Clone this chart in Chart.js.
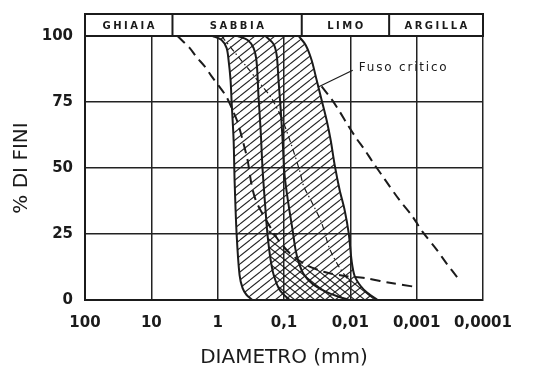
<!DOCTYPE html>
<html>
<head>
<meta charset="utf-8">
<script src="https://cdn.jsdelivr.net/npm/chart.js@4.4.0/dist/chart.umd.min.js"></script>
<style>
  html, body { margin: 0; padding: 0; background: #fff; }
</style>
</head>
<body>
<canvas id="chart" width="537" height="369"></canvas>
<script>
// asse x: diametro in mm (scala log invertita), asse y: % di fini
const xTicks = [100, 10, 1, 0.1, 0.01, 0.001, 0.0001];
const xTickLabels = ["100", "10", "1", "0,1", "0,01", "0,001", "0,0001"];
const yTicks = [0, 25, 50, 75, 100];

// classi granulometriche sopra il grafico (limiti in mm)
const classi = ["GHIAIA", "SABBIA", "LIMO", "ARGILLA"];
const limitiClassi = [100, 4.8, 0.054, 0.0026, 0.0001];

// le quattro curve continue del fuso
const curvaA_d = [1.19, 0.873, 0.734, 0.685, 0.639, 0.617, 0.575, 0.556, 0.519, 0.468, 0.421, 0.366, 0.298];
const curvaA_p = [100, 98.5, 95.5, 90.9, 83.3, 75.4, 60.6, 45.5, 25.4, 9.5, 4.5, 1.9, 0];
const curvaB_d = [0.501, 0.354, 0.288, 0.259, 0.242, 0.225, 0.210, 0.190, 0.177, 0.159, 0.143, 0.116, 0.0824];
const curvaB_p = [100, 98.5, 95.5, 90.2, 76.9, 64.4, 49.2, 34.1, 24.6, 15.2, 9.5, 3.8, 0];
const curvaC_d = [0.190, 0.144, 0.129, 0.121, 0.112, 0.105, 0.098, 0.0853, 0.0742, 0.0668, 0.0602, 0.0506, 0.0371, 0.0244, 0.0161, 0.0103];
const curvaC_p = [100, 97, 92.8, 83.3, 72, 60.6, 47.3, 36, 26.5, 18.9, 14.4, 9.8, 6.1, 3.4, 1.5, 0];
const curvaD_d = [0.0602, 0.0472, 0.0384, 0.0322, 0.0271, 0.0228, 0.0198, 0.0172, 0.0145, 0.0122, 0.0106, 0.00955, 0.00861, 0.00699, 0.00548, 0.00387];
const curvaD_p = [100, 96.6, 90.9, 83.3, 75.8, 68.2, 60.6, 51.1, 41.7, 34.1, 25.4, 14.7, 9.1, 5.3, 2.6, 0];

// fuso critico (tratteggiato)
const critInf_d = [4.03, 2.65, 2.08, 1.58, 1.24, 0.936, 0.734, 0.596, 0.501, 0.421, 0.354, 0.308, 0.268, 0.218, 0.165, 0.125, 0.0824, 0.0489, 0.0244, 0.0122, 0.00608, 0.00255, 0.0010];
const critInf_p = [100, 95.5, 92, 88.6, 84.8, 80.7, 76.9, 72, 67.4, 60.6, 53, 43.6, 37.9, 33.3, 28, 23.1, 17.8, 13.6, 10.6, 9.1, 8.3, 6.5, 4.9];
const critSup_d = [0.0271, 0.0191, 0.0145, 0.0110, 0.00804, 0.00608, 0.00461, 0.00304, 0.00181, 0.00119, 0.000813, 0.000500, 0.000353, 0.000241];
const critSup_p = [80.9, 76, 71.4, 66.4, 61.1, 56.9, 52.3, 45.8, 37.8, 32.1, 25.8, 19.1, 13.8, 8.4];

// linea mediana tratto-punto
const mediana_d = [0.873, 0.519, 0.354, 0.233, 0.154, 0.105, 0.0767, 0.0582, 0.0506, 0.0371, 0.0271, 0.0205, 0.0145, 0.00955];
const mediana_p = [100, 92.9, 87.9, 82.2, 76.4, 68, 58.5, 49, 43.2, 36.5, 29.2, 19.4, 12.2, 6];

// richiamo "Fuso critico"
const richiamo_d = [0.0092, 0.031];
const richiamo_p = [87, 80.6];
const richiamoTesto = "Fuso critico";

const punti = (ds, ps) => ds.map((d, i) => ({ x: d, y: ps[i] }));

const nero = "#1b1b1b";

function tratteggio(dir) {
  const w = 10, h = 8;
  const c = document.createElement("canvas");
  c.width = w; c.height = h;
  const g = c.getContext("2d");
  g.strokeStyle = "#222";
  g.lineWidth = 1.1;
  for (let k = 0; k <= 2; k++) {
    g.beginPath();
    if (dir === "/") { g.moveTo(0, k * h); g.lineTo(w, (k - 1) * h); }
    else { g.moveTo(0, (k - 1) * h); g.lineTo(w, k * h); }
    g.stroke();
  }
  return g.createPattern(c, "repeat");
}

// area tratteggiata tra curva A e curva D
const areaFuso = punti(curvaA_d, curvaA_p).concat(punti(curvaD_d, curvaD_p).reverse());
// zona a tratteggio incrociato sotto il fuso critico inferiore
const areaIncrocio = punti(critInf_d, critInf_p).filter(p => p.x <= 0.17 && p.x >= 0.009)
  .concat(punti(curvaD_d, curvaD_p).filter(p => p.x <= 0.0087))
  .concat(punti(curvaB_d, curvaB_p).filter(p => p.y <= 25).reverse());

const linea = (data, extra) => Object.assign({
  data: data,
  borderColor: nero,
  borderWidth: 2,
  pointRadius: 0,
  fill: false,
  tension: 0.3,
  order: 1,
}, extra);

const fasce = {
  id: "fasce",
  afterDraw(chart) {
    const { ctx, chartArea, scales } = chart;
    const x = scales.x;
    const top = chartArea.top - 22, bottom = chartArea.top;
    ctx.save();
    ctx.strokeStyle = nero;
    ctx.lineWidth = 2;
    ctx.strokeRect(chartArea.left, top, chartArea.right - chartArea.left, bottom - top);
    ctx.fillStyle = nero;
    ctx.font = "bold 10px 'DejaVu Sans'";
    ctx.letterSpacing = "2.5px";
    ctx.textAlign = "center";
    ctx.textBaseline = "middle";
    for (let i = 0; i < classi.length; i++) {
      const a = x.getPixelForValue(limitiClassi[i]);
      const b = x.getPixelForValue(limitiClassi[i + 1]);
      if (i > 0) {
        ctx.beginPath();
        ctx.moveTo(a, top);
        ctx.lineTo(a, bottom);
        ctx.stroke();
      }
      ctx.fillText(classi[i], (a + b) / 2 + 1, (top + bottom) / 2 + 1);
    }
    // etichetta del richiamo
    const y = scales.y;
    ctx.font = "12px 'DejaVu Sans'";
    ctx.letterSpacing = "1.8px";
    ctx.textAlign = "left";
    ctx.fillText(richiamoTesto, x.getPixelForValue(richiamo_d[0]) + 6, y.getPixelForValue(richiamo_p[0]) - 2);
    ctx.restore();
  },
};

new Chart(document.getElementById("chart"), {
  type: "line",
  data: {
    datasets: [
      { data: areaFuso, fill: "shape", backgroundColor: tratteggio("/"), borderWidth: 0, pointRadius: 0, tension: 0, order: 10 },
      { data: areaIncrocio, fill: "shape", backgroundColor: tratteggio("\\"), borderWidth: 0, pointRadius: 0, tension: 0, order: 9 },
      linea(punti(curvaA_d, curvaA_p)),
      linea(punti(curvaB_d, curvaB_p)),
      linea(punti(curvaC_d, curvaC_p)),
      linea(punti(curvaD_d, curvaD_p)),
      linea(punti(critInf_d, critInf_p), { borderWidth: 2, borderDash: [10, 6] }),
      linea(punti(critSup_d, critSup_p), { borderWidth: 2, borderDash: [10, 6] }),
      linea(punti(mediana_d, mediana_p), { borderWidth: 1.2, borderDash: [6, 3, 1.5, 3] }),
      linea(punti(richiamo_d, richiamo_p), { borderWidth: 1.2, tension: 0 }),
    ],
  },
  options: {
    responsive: false,
    animation: false,
    layout: { padding: { top: 36, right: 54, left: 0, bottom: 0 } },
    plugins: {
      legend: { display: false },
      tooltip: { enabled: false },
    },
    scales: {
      x: {
        type: "logarithmic",
        reverse: true,
        min: 0.0001,
        max: 100,
        afterBuildTicks: (s) => { s.ticks = xTicks.map((v) => ({ value: v })); },
        afterFit: (s) => { s.height = 69; },
        ticks: {
          autoSkip: false,
          maxRotation: 0,
          padding: 14,
          color: nero,
          font: { family: "'DejaVu Sans'", size: 15, weight: "bold" },
          callback: (v) => {
            const i = xTicks.findIndex((t) => Math.abs(Math.log10(t) - Math.log10(v)) < 1e-6);
            return i >= 0 ? xTickLabels[i] : "";
          },
        },
        grid: { color: "#222", lineWidth: 1.5, drawTicks: false },
        border: { color: nero, width: 2 },
        title: {
          display: true,
          text: "DIAMETRO (mm)",
          color: nero,
          font: { family: "'DejaVu Sans'", size: 20, lineHeight: 1.1 },
          padding: { top: 0, bottom: 0 },
        },
      },
      y: {
        min: 0,
        max: 100,
        afterBuildTicks: (s) => { s.ticks = yTicks.map((v) => ({ value: v })); },
        afterFit: (s) => { s.width = 85; },
        ticks: {
          padding: 12,
          color: nero,
          font: { family: "'DejaVu Sans'", size: 15, weight: "bold" },
        },
        grid: { color: "#222", lineWidth: 1.5, drawTicks: false },
        border: { color: nero, width: 2 },
        title: {
          display: true,
          text: "% DI FINI",
          color: nero,
          font: { family: "'DejaVu Sans'", size: 20, lineHeight: 1.2 },
          padding: { top: 10, bottom: 0 },
        },
      },
    },
  },
  plugins: [fasce],
});
</script>
</body>
</html>
